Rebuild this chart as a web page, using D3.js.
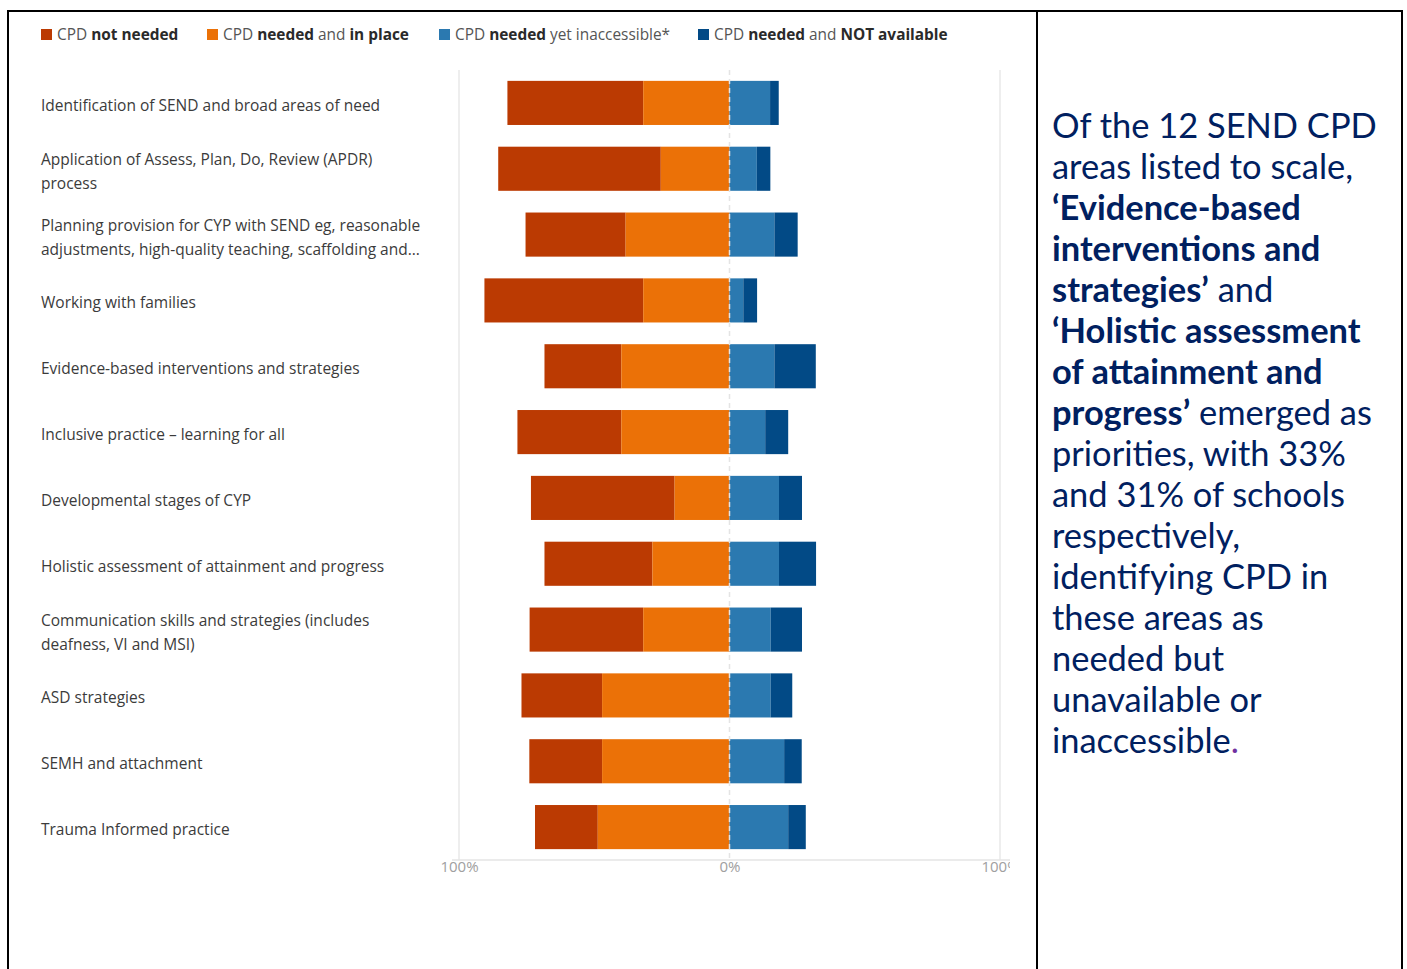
<!DOCTYPE html>
<html>
<head>
<meta charset="utf-8">
<script src="https://cdn.jsdelivr.net/npm/d3@7"></script>
<style>
  html, body { margin: 0; padding: 0; background: #fff; }
  svg { display: block; }
</style>
</head>
<body>
<svg id="chart" width="1407" height="969"></svg>
<script>
// ---------- DATA ----------
const categories = [
  "Identification of SEND and broad areas of need",
  "Application of Assess, Plan, Do, Review (APDR)|process",
  "Planning provision for CYP with SEND eg, reasonable|adjustments, high-quality teaching, scaffolding and...",
  "Working with families",
  "Evidence-based interventions and strategies",
  "Inclusive practice \u2013 learning for all",
  "Developmental stages of CYP",
  "Holistic assessment of attainment and progress",
  "Communication skills and strategies (includes|deafness, VI and MSI)",
  "ASD strategies",
  "SEMH and attachment",
  "Trauma Informed practice"
];
const notNeeded    = [50.2, 60.1, 37.0, 58.7, 28.4, 38.4, 53.1, 39.9, 42.0, 29.8, 26.9, 23.2];
const inPlace      = [31.9, 25.4, 38.4, 31.9, 40.0, 40.0, 20.3, 28.5, 31.9, 47.1, 47.1, 48.7];
const inaccessible = [15.0, 10.1, 16.6,  5.1, 16.6, 13.2, 18.3, 18.3, 15.2, 15.2, 20.2, 21.7];
const notAvailable = [ 3.2,  5.0,  8.6,  5.1, 15.3,  8.5,  8.5, 13.7, 11.6,  8.0,  6.5,  6.5];

const seriesNames = ["CPD not needed", "CPD needed and in place", "CPD needed yet inaccessible*", "CPD needed and NOT available"];
const legendParts = [
  [["CPD ", false], ["not needed", true]],
  [["CPD ", false], ["needed", true], [" and ", false], ["in place", true]],
  [["CPD ", false], ["needed", true], [" yet inaccessible*", false]],
  [["CPD ", false], ["needed", true], [" and ", false], ["NOT available", true]]
];
const seriesColors = ["#BB3A02", "#EB7107", "#2B79B0", "#024A86"];
const xTicks = [-100, 0, 100];

const noteLines = [
  [["Of the 12 SEND CPD", false]],
  [["areas listed to scale,", false]],
  [["\u2018Evidence-based", true]],
  [["interventions and", true]],
  [["strategies\u2019", true], [" and", false]],
  [["\u2018Holistic assessment", true]],
  [["of attainment and", true]],
  [["progress\u2019", true], [" emerged as", false]],
  [["priorities, with 33%", false]],
  [["and 31% of schools", false]],
  [["respectively,", false]],
  [["identifying CPD in", false]],
  [["these areas as", false]],
  [["needed but", false]],
  [["unavailable or", false]],
  [["inaccessible", false], [".", false, "#7030A0"]]
];

// ---------- LAYOUT ----------
const svg = d3.select("#chart");
const uiFont = "'Open Sans', 'Noto Sans', sans-serif";
const noteFont = "Lato, 'Open Sans', sans-serif";

// table borders
const border = svg.append("g").attr("stroke", "#000").attr("stroke-width", 2);
border.append("line").attr("x1", 7).attr("x2", 1403).attr("y1", 11).attr("y2", 11);
border.append("line").attr("x1", 8).attr("x2", 8).attr("y1", 10).attr("y2", 969);
border.append("line").attr("x1", 1037).attr("x2", 1037).attr("y1", 10).attr("y2", 969);
border.append("line").attr("x1", 1402).attr("x2", 1402).attr("y1", 10).attr("y2", 969);

// clip for chart
svg.append("defs").append("clipPath").attr("id", "chartClip")
  .append("rect").attr("x", 9).attr("y", 12).attr("width", 1001).attr("height", 957);
const chart = svg.append("g").attr("clip-path", "url(#chartClip)");

const x = d3.scaleLinear().domain([-100, 100]).range([459, 1000]);
const y = d3.scaleBand().domain(categories).range([70, 860]).paddingInner(0.33).paddingOuter(0.165);

// gridlines
chart.append("g").selectAll("line").data([-100, 100]).join("line")
  .attr("x1", d => x(d)).attr("x2", d => x(d)).attr("y1", 70).attr("y2", 860)
  .attr("stroke", "#e8e8e8").attr("stroke-width", 1.5);

// bars
const rows = categories.map((c, i) => ({ c, vals: [notNeeded[i], inPlace[i], inaccessible[i], notAvailable[i]] }));
const segs = [];
rows.forEach(r => {
  const [a, b, cc, d] = r.vals;
  segs.push({ c: r.c, s: 0, x0: -(a + b), x1: -b });
  segs.push({ c: r.c, s: 1, x0: -b, x1: 0 });
  segs.push({ c: r.c, s: 2, x0: 0, x1: cc });
  segs.push({ c: r.c, s: 3, x0: cc, x1: cc + d });
});
chart.append("g").selectAll("rect").data(segs).join("rect")
  .attr("x", d => x(d.x0)).attr("width", d => x(d.x1) - x(d.x0))
  .attr("y", d => y(d.c)).attr("height", y.bandwidth())
  .attr("fill", d => seriesColors[d.s]);

// zero dashed line
chart.append("line").attr("x1", x(0)).attr("x2", x(0)).attr("y1", 70).attr("y2", 860)
  .attr("stroke", "#e4e4e4").attr("stroke-width", 1.5).attr("stroke-dasharray", "5,4");

// x axis
const xAxis = d3.axisBottom(x).tickValues(xTicks).tickSize(0).tickPadding(1)
  .tickFormat(d => Math.abs(d) + "%");
const ax = chart.append("g").attr("transform", "translate(0,860)").call(xAxis);
ax.select(".domain").attr("stroke", "#e4e4e4").attr("stroke-width", 1.5).attr("d", "M452,0H1010");
ax.selectAll("text").attr("fill", "#a0a0a0").attr("font-family", uiFont).attr("font-size", 15);

// category labels
const labG = chart.append("g").attr("font-family", uiFont).attr("font-size", 15.5).attr("fill", "#3b3b3b");
categories.forEach(c => {
  const lines = c.split("|");
  const cy = y(c) + y.bandwidth() / 2 + 2.5;
  const lh = 24;
  const t = labG.append("text").attr("x", 41);
  lines.forEach((ln, k) => {
    t.append("tspan").attr("x", 41)
      .attr("y", cy + (k - (lines.length - 1) / 2) * lh)
      .attr("dy", "0.35em").text(ln);
  });
});

// legend
const legX = [41, 207, 439, 698];
const legG = chart.append("g").attr("font-family", uiFont).attr("font-size", 15.4);
legendParts.forEach((parts, i) => {
  legG.append("rect").attr("x", legX[i]).attr("y", 29).attr("width", 11).attr("height", 11)
    .attr("fill", seriesColors[i]);
  const t = legG.append("text").attr("x", legX[i] + 16).attr("y", 40).attr("fill", "#444");
  parts.forEach(p => t.append("tspan").attr("font-weight", p[1] ? 700 : 400)
    .attr("fill", p[1] ? "#2a2a2a" : "#555").text(p[0]));
});

// right note
const noteG = svg.append("g").attr("font-family", noteFont).attr("fill", "#002060");
let noteSize = 34;
const probe = noteG.append("text").attr("font-size", noteSize).text(noteLines[8][0][0]);
const w = probe.node().getComputedTextLength();
noteSize = noteSize * 294 / w;
probe.remove();
noteLines.forEach((parts, i) => {
  const t = noteG.append("text").attr("x", 1052).attr("y", 138 + i * 41).attr("font-size", noteSize);
  parts.forEach(p => {
    const ts = t.append("tspan").attr("font-weight", p[1] ? 700 : 400).text(p[0]);
    if (p[2]) ts.attr("fill", p[2]);
  });
});
</script>
</body>
</html>
